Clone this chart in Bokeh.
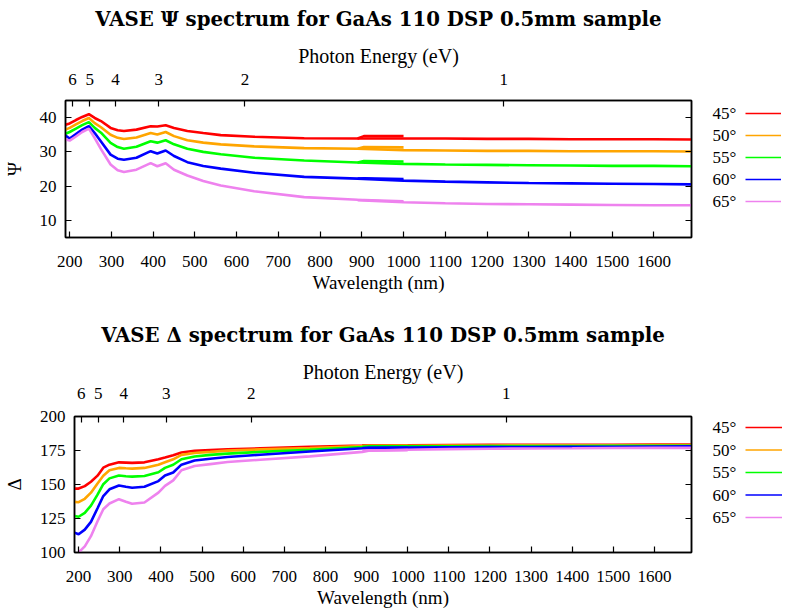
from bokeh.plotting import figure
from bokeh.models import Range1d, LinearAxis, FixedTicker, CustomJSTickFormatter, ColumnDataSource
from bokeh.layouts import column, row
from bokeh.embed import file_html
from bokeh.resources import INLINE
from bokeh.core.properties import value

# ---------------- data ----------------
angles = ["45°", "50°", "55°", "60°", "65°"]
colors = ["#ff0000", "#ffa500", "#00ff00", "#0000ff", "#ee82ee"]

wavelength_ticks = [200, 300, 400, 500, 600, 700, 800, 900, 1000, 1100, 1200, 1300, 1400, 1500, 1600]
energy_ticks_ev = [6, 5, 4, 3, 2, 1]
psi_ticks = [10, 20, 30, 40]
delta_ticks = [100, 125, 150, 175, 200]

# short-wavelength detector range and NIR detector range (nm)
wl_vis = [190, 200, 215, 230, 246, 260, 275, 298, 315, 330, 360, 394, 410, 430, 450,
          482, 520, 562, 642, 762, 890, 905, 1000]
wl_nir = [890, 1000, 1100, 1200, 1300, 1400, 1500, 1600, 1690]

psi_vis_45 = [37.9, 38.3, 39.3, 40.2, 41.0, 39.9, 39.0, 37.0, 36.3, 36.1, 36.5, 37.5, 37.4, 37.8, 37.0,
              36.1, 35.5, 34.9, 34.4, 34.0, 33.9, 34.6, 34.6]
psi_vis_50 = [36.5, 37.0, 38.0, 39.0, 39.9, 38.4, 37.2, 35.0, 34.1, 33.75, 34.2, 35.5, 35.1, 35.8, 34.6,
              33.4, 32.7, 32.2, 31.6, 31.1, 30.9, 31.4, 31.3]
psi_vis_55 = [35.3, 35.8, 36.8, 37.8, 38.7, 37.0, 35.6, 32.6, 31.4, 30.9, 31.5, 33.1, 32.7, 33.4, 32.2,
              30.9, 30.0, 29.3, 28.3, 27.5, 26.9, 27.3, 27.2]
psi_vis_60 = [34.8, 33.9, 35.2, 36.5, 37.5, 35.5, 33.0, 29.2, 28.0, 27.7, 28.3, 30.2, 29.5, 30.4, 28.8,
              27.0, 25.9, 25.1, 23.9, 22.7, 22.2, 22.3, 22.1]
psi_vis_65 = [33.6, 33.3, 34.5, 35.8, 36.8, 34.0, 30.8, 26.3, 24.6, 24.1, 24.8, 26.7, 25.8, 26.7, 24.8,
              23.1, 21.5, 20.2, 18.5, 16.8, 16.0, 15.95, 15.6]

psi_nir_45 = [33.9, 33.9, 33.9, 33.8, 33.8, 33.7, 33.7, 33.7, 33.6]
psi_nir_50 = [30.9, 30.5, 30.4, 30.3, 30.3, 30.2, 30.2, 30.2, 30.1]
psi_nir_55 = [26.9, 26.5, 26.3, 26.2, 26.1, 26.0, 25.9, 25.9, 25.8]
psi_nir_60 = [22.2, 21.6, 21.3, 21.1, 20.9, 20.8, 20.7, 20.6, 20.5]
psi_nir_65 = [15.9, 15.3, 15.0, 14.8, 14.7, 14.6, 14.5, 14.4, 14.4]

delta_vis_45 = [147.0, 147.0, 148.8, 152.0, 156.5, 162.4, 164.6, 166.3, 166.1, 165.9, 166.3, 168.5, 169.8,
                171.5, 173.5, 174.8, 175.3, 175.8, 176.6, 177.8, 178.6, 178.9, 178.9]
delta_vis_50 = [137.2, 137.0, 139.5, 144.0, 150.8, 156.4, 160.5, 162.2, 161.9, 161.7, 162.2, 164.5, 166.3,
                168.5, 171.8, 173.2, 174.0, 174.9, 175.8, 176.8, 178.2, 178.5, 178.5]
delta_vis_55 = [126.8, 126.3, 129.2, 134.5, 142.5, 150.2, 154.5, 156.6, 156.1, 155.8, 156.3, 159.0, 162.2,
                164.5, 168.6, 170.6, 171.8, 172.7, 174.0, 175.6, 177.6, 178.0, 178.1]
delta_vis_60 = [114.6, 113.4, 116.8, 122.5, 132.5, 141.5, 146.5, 149.3, 148.3, 147.6, 148.4, 152.5, 156.6,
                158.8, 164.6, 167.6, 168.9, 170.2, 171.9, 174.3, 176.6, 176.9, 177.0]
delta_vis_65 = [97.0, 100.0, 104.5, 112.0, 123.0, 131.8, 136.0, 139.2, 137.3, 135.8, 136.8, 144.0, 149.0,
                153.0, 160.5, 163.6, 165.0, 166.5, 168.2, 170.7, 174.0, 174.9, 175.3]

delta_nir_45 = [178.8, 178.9, 179.0, 179.1, 179.1, 179.2, 179.2, 179.3, 179.3]
delta_nir_50 = [178.3, 178.5, 178.6, 178.7, 178.8, 178.8, 178.9, 179.0, 179.0]
delta_nir_55 = [177.8, 178.0, 178.1, 178.2, 178.3, 178.3, 178.4, 178.5, 178.5]
delta_nir_60 = [176.8, 177.1, 177.3, 177.5, 177.6, 177.7, 177.8, 177.9, 178.0]
delta_nir_65 = [174.8, 175.5, 176.0, 176.3, 176.5, 176.6, 176.8, 176.9, 176.9]

psi_vis = [psi_vis_45, psi_vis_50, psi_vis_55, psi_vis_60, psi_vis_65]
psi_nir = [psi_nir_45, psi_nir_50, psi_nir_55, psi_nir_60, psi_nir_65]
delta_vis = [delta_vis_45, delta_vis_50, delta_vis_55, delta_vis_60, delta_vis_65]
delta_nir = [delta_nir_45, delta_nir_50, delta_nir_55, delta_nir_60, delta_nir_65]

FONT = "Liberation Serif"
TFONT = "DejaVu Serif"
TICK_SIZE = "17px"
LABEL_SIZE = "19px"


def style_axis(ax, label_standoff, axis_label_standoff):
    ax.axis_line_color = "black"
    ax.axis_line_width = 1.5
    ax.major_tick_in = 6
    ax.major_tick_out = 0
    ax.major_tick_line_color = "black"
    ax.major_tick_line_width = 1.2
    ax.minor_tick_line_color = None
    ax.major_label_text_font = FONT
    ax.major_label_text_font_size = TICK_SIZE
    ax.major_label_text_color = "black"
    ax.major_label_standoff = label_standoff
    ax.axis_label_text_font = FONT
    ax.axis_label_text_font_size = LABEL_SIZE
    ax.axis_label_text_font_style = "normal"
    ax.axis_label_text_color = "black"
    ax.axis_label_standoff = axis_label_standoff


def make_chart(title, ylabel, yrange, yticks, vis, nir, bl, bt, bb, fw, fh,
               leg_first, leg_step, bottom_standoff, bottom_label_standoff,
               top_standoff, top_label_standoff):
    p = figure(frame_width=fw, frame_height=fh,
               min_border_left=bl, min_border_top=bt, min_border_bottom=bb, min_border_right=2,
               x_range=Range1d(190, 1690), y_range=Range1d(*yrange),
               output_backend="svg", toolbar_location=None)
    p.grid.visible = False
    p.outline_line_color = "black"
    p.outline_line_width = 1.5
    p.background_fill_color = "white"
    p.border_fill_color = "white"

    p.title.text = title
    p.title.align = "center"
    p.title.text_font = TFONT
    p.title.text_font_style = "bold"
    p.title.text_font_size = "19.75px"
    p.title.text_color = "black"
    p.title.standoff = 21

    xa = p.xaxis[0]
    xa.ticker = FixedTicker(ticks=wavelength_ticks)
    xa.axis_label = "Wavelength (nm)"
    style_axis(xa, bottom_standoff, bottom_label_standoff)

    ya = p.yaxis[0]
    ya.ticker = FixedTicker(ticks=yticks)
    ya.axis_label = ylabel
    style_axis(ya, 9, 12)

    top = LinearAxis(ticker=FixedTicker(ticks=[1239.84 / e for e in energy_ticks_ev]),
                     formatter=CustomJSTickFormatter(code="return Math.round(1239.84/tick).toString();"),
                     axis_label="Photon Energy (eV)")
    style_axis(top, top_standoff, top_label_standoff)
    top.axis_label_text_font_size = "20px"
    p.add_layout(top, "above")

    right = LinearAxis(ticker=FixedTicker(ticks=yticks),
                       formatter=CustomJSTickFormatter(code="return '';"))
    style_axis(right, 0, 0)
    p.add_layout(right, "right")

    for c, v, n in zip(colors, vis, nir):
        p.line(x=wl_vis, y=v, line_color=c, line_width=2.6)
        p.line(x=wl_nir, y=n, line_color=c, line_width=2.6)

    LW = 770 - (bl + fw + 2)
    leg = figure(frame_width=LW, frame_height=fh, x_range=Range1d(0, LW), y_range=Range1d(fh, 0),
                 min_border_left=0, min_border_right=0, min_border_top=bt, min_border_bottom=bb,
                 output_backend="svg", toolbar_location=None,
                 x_axis_location=None, y_axis_location=None)
    leg.grid.visible = False
    leg.outline_line_color = None
    ys = [leg_first + i * leg_step for i in range(len(angles))]
    src = ColumnDataSource(dict(x=[19] * len(angles), x0=[52] * len(angles), x1=[LW] * len(angles),
                                y=ys, t=angles, c=colors))
    leg.text(x="x", y="y", text="t", source=src, text_font=value(FONT), text_font_size="17px",
             text_baseline="middle", text_align="left", text_color="black")
    leg.segment(x0="x0", y0="y", x1="x1", y1="y", source=src, line_color="c", line_width=1.5)
    return row(p, leg)


top_chart = make_chart("VASE Ψ spectrum for GaAs 110 DSP 0.5mm sample", "Ψ", (5, 45), psi_ticks,
                       psi_vis, psi_nir, bl=54, bt=106, bb=67, fw=626, fh=137,
                       leg_first=13, leg_step=22, bottom_standoff=18, bottom_label_standoff=2,
                       top_standoff=16, top_label_standoff=4)
bot_chart = make_chart("VASE Δ spectrum for GaAs 110 DSP 0.5mm sample", "Δ", (100, 200), delta_ticks,
                       delta_vis, delta_nir, bl=62, bt=112, bb=57, fw=617, fh=136,
                       leg_first=11, leg_step=22.5, bottom_standoff=18, bottom_label_standoff=2,
                       top_standoff=18, top_label_standoff=2)

layout = column(top_chart, bot_chart, styles={"margin-top": "-6px"})
open("out.html", "w").write(file_html(layout, INLINE))
